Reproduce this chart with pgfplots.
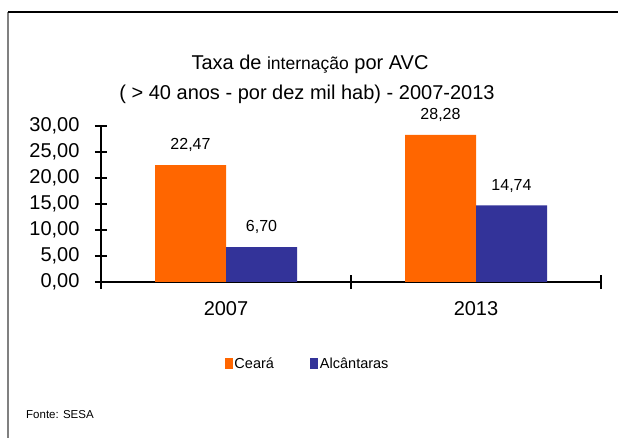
\documentclass[border=0pt]{standalone}
\usepackage{pgfplots}
\pgfplotsset{compat=1.18}
\usepackage{fontspec}
\setmainfont{Liberation Sans}
\definecolor{cearaor}{HTML}{FF6600}
\definecolor{alcbl}{HTML}{333399}
\begin{document}
\begin{tikzpicture}
\path[use as bounding box] (0,0) rectangle (618bp,438bp);
\draw[line width=1.5bp, black!50] (8bp,0) -- (8bp,426bp);
\draw[line width=1.5bp] (8bp,426bp) -- (618bp,426bp);
\node[anchor=base, inner sep=0, font=\fontsize{20bp}{24bp}\selectfont] at (310bp,368bp) {Taxa de {\fontsize{17.5bp}{20bp}\selectfont internação} por AVC};
\node[anchor=base, inner sep=0, font=\fontsize{20bp}{24bp}\selectfont] at (307bp,338bp) {( > 40 anos - por dez mil hab) - 2007-2013};
\node[anchor=base west, inner sep=0, font=\fontsize{11.5bp}{14bp}\selectfont] at (26bp,20bp) {Fonte: SESA};
\begin{axis}[
  at={(101bp,156bp)}, anchor=south west,
  scale only axis, width=500bp, height=156bp,
  xmin=-0.5, xmax=1.5, ymin=0, ymax=30,
  ybar, bar width=0.284,
  axis lines=left,
  axis line style={-, line width=2bp, black},
  xtick={0,1}, xticklabels={2007,2013},
  minor xtick={-0.5,0.5,1.5},
  major x tick style={draw=none},
  ytick={0,5,...,30},
  tick align=center,
  major tick length=12bp, minor tick length=14bp,
  tick style={line width=2bp, black},
  /pgf/number format/.cd, fixed, fixed zerofill, precision=2, use comma, assume math mode=true,
  /pgfplots/.cd,
  tick label style={font=\fontsize{20bp}{24bp}\selectfont},
  yticklabel style={xshift=-12bp},
  xticklabel style={yshift=-10bp},
  nodes near coords,
  every node near coord/.append style={font=\fontsize{16bp}{19bp}\selectfont, inner sep=0pt, yshift=13bp},
  legend columns=2,
  legend style={at={(0.413,-0.525)}, anchor=center, draw=none, fill=none, inner sep=0pt,
    font=\fontsize{14.5bp}{17bp}\selectfont,
    /tikz/every even column/.append style={column sep=35bp},
    nodes={inner sep=1.5bp}},
  legend image code/.code={\fill[#1] (0bp,-5bp) rectangle (8bp,6bp);},
]
\addplot[fill=cearaor, draw=none, bar shift=-0.142] coordinates {(0,22.47) (1,28.28)};
\addlegendentry{Ceará}
\addplot[fill=alcbl, draw=none, bar shift=0.142] coordinates {(0,6.70) (1,14.74)};
\addlegendentry{Alcântaras}
\end{axis}
\end{tikzpicture}
\end{document}
